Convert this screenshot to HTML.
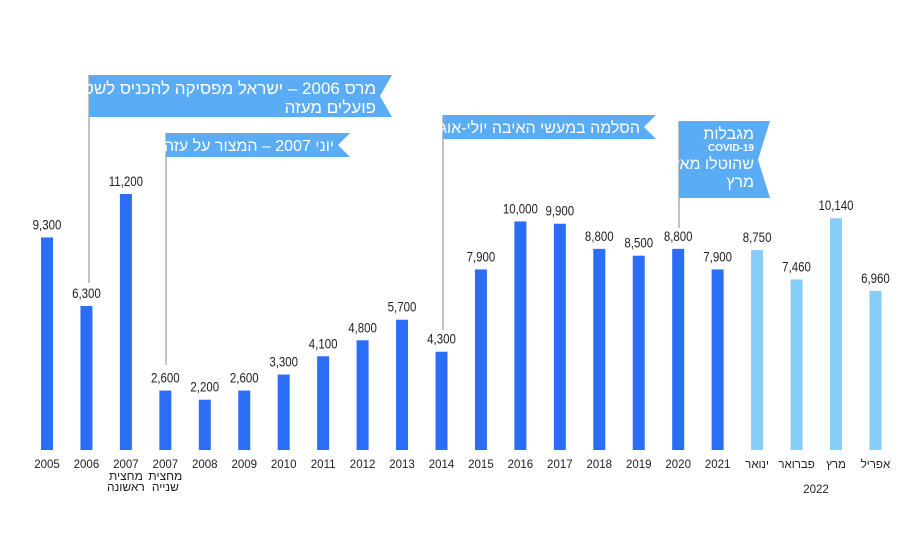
<!DOCTYPE html><html><head><meta charset="utf-8"><style>body{margin:0;background:#fff}svg{display:block;font-family:"Liberation Sans","Noto Sans CJK SC",sans-serif}</style></head><body>
<svg id="c" width="899" height="554"></svg>
<script>
const categories=["2005","2006","2007","2007","2008","2009","2010","2011","2012","2013","2014","2015","2016","2017","2018","2019","2020","2021","ינואר","פברואר","מרץ","אפריל"];
const subLabels=["","","מחצית|ראשונה","מחצית|שנייה","","","","","","","","","","","","","","","","","",""];
const values=[9300,6300,11200,2600,2200,2600,3300,4100,4800,5700,4300,7900,10000,9900,8800,8500,8800,7900,8750,7460,10140,6960];
const valueLabels=["9,300","6,300","11,200","2,600","2,200","2,600","3,300","4,100","4,800","5,700","4,300","7,900","10,000","9,900","8,800","8,500","8,800","7,900","8,750","7,460","10,140","6,960"];
const isMonthly=[0,0,0,0,0,0,0,0,0,0,0,0,0,0,0,0,0,0,1,1,1,1];
const NS="http://www.w3.org/2000/svg",svg=document.getElementById('c');
const base=450,k=(450-194)/11200;
const x=i=>47+i*39.45, y=v=>base-v*k;
function el(t,a,p){const e=document.createElementNS(NS,t);for(const n in a)e.setAttribute(n,a[n]);(p||svg).appendChild(e);return e;}
values.forEach((v,i)=>{
 const r=el('rect',{x:x(i)-6,y:y(v),width:12,height:v*k,fill:isMonthly[i]?'#86cdfa':'#2b6ef5'});
 
 const t=el('text',{x:x(i),y:y(v)-8,'text-anchor':'middle','font-size':14,fill:'#222',transform:`translate(${x(i)},0) scale(0.82,1) translate(${-x(i)},0)`});t.textContent=valueLabels[i];
 
 const c=el('text',{x:x(i),y:468,'text-anchor':'middle','font-size':11.5,fill:'#222'});c.textContent=categories[i];
 
 if(subLabels[i]){subLabels[i].split('|').forEach((s,j)=>{const q=el('text',{x:x(i),y:480+j*11,'text-anchor':'middle','font-size':12,fill:'#222'});q.textContent=s;});}
});
const yr=el('text',{x:816,y:493,'text-anchor':'middle','font-size':11.5,fill:'#222'});yr.textContent='2022';

function flag(x1,x2,y1,y2,lineEnd,lines,sizes){
 el('line',{x1:x1,y1:y1,x2:x1,y2:lineEnd,stroke:'#999','stroke-width':1.2});
 const p=el('polygon',{points:`${x1},${y1} ${x2},${y1} ${x2-12},${(y1+y2)/2} ${x2},${y2} ${x1},${y2}`,fill:'#5aacf5'});
 
 let yy=y1;lines.forEach((s,j)=>{yy+=sizes[j]+2;const t=el('text',{x:x2-16,y:yy,'text-anchor':'end','font-size':sizes[j],fill:'#fff','font-weight':sizes[j]<12?'bold':'normal'});t.textContent=s;});
}
flag(89,392,75,117,283,["מרס 2006 – ישראל מפסיקה להכניס לשטחה","פועלים מעזה"],[17,17]);
flag(166,350,133,157,365,["יוני 2007 – המצור על עזה"],[16]);
flag(443,656,115,139,330,["הסלמה במעשי האיבה יולי-אוגוסט"],[16]);
flag(679,770,121,198,228,["מגבלות","COVID-19","שהוטלו מאז","מרץ"],[16,10,16,16]);
</script></body></html>
